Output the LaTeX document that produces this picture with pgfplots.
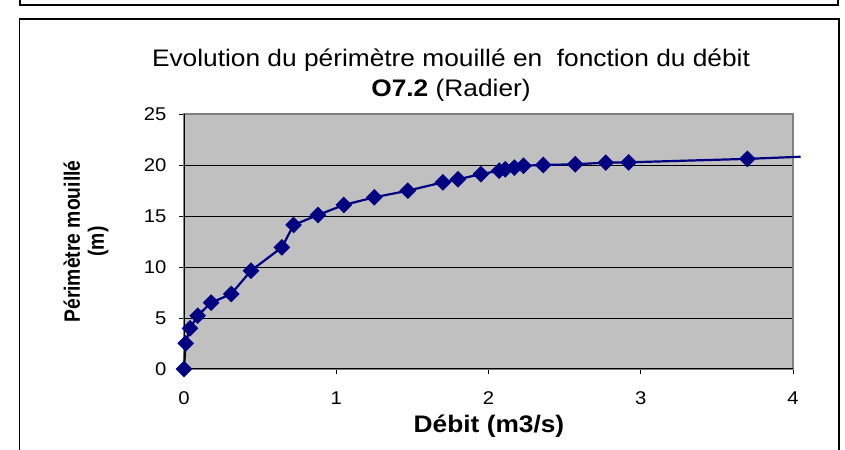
\documentclass[border=0pt]{standalone}
\usepackage{fontspec}
\setmainfont{Liberation Sans}[FakeStretch=1.1]
\newfontfamily\ylabfont{Liberation Sans}
\usepackage{pgfplots}
\pgfplotsset{compat=1.18}
\definecolor{plotgray}{HTML}{C0C0C0}
\definecolor{bordergray}{HTML}{808080}
\definecolor{navyc}{HTML}{000080}
\begin{document}
\begin{tikzpicture}[x=1bp,y=1bp]
\useasboundingbox (-184,-81) rectangle (661,369);
% frames
\draw[black, line width=1.5bp] (-164,380) -- (-164,364) -- (654,364) -- (654,380);
\draw[black, line width=1.5bp] (-164.5,-95) -- (-164.5,350) -- (655,350) -- (655,-95);
\begin{axis}[
  at={(0,0)}, anchor=south west,
  scale only axis, width=609bp, height=255bp,
  xmin=0, xmax=4, ymin=0, ymax=25,
  xtick={0,1,2,3,4}, ytick={0,5,10,15,20,25},
  axis background/.style={fill=plotgray},
  axis line style={bordergray, line width=1.5bp},
  ymajorgrids, grid style={black, line width=0.8bp},
  tick pos=left, tick align=outside, major tick length=5bp,
  tick style={black, line width=0.8bp},
  ticklabel style={font=\fontsize{18.5}{20}\selectfont},
  xticklabel style={yshift=-14bp},
  yticklabel style={xshift=-9bp},
  /pgf/number format/assume math mode=true,
  clip=false,
]
\addplot[navyc, line width=2.2bp, mark=square*, mark size=4.8bp, mark options={rotate=45, solid, fill=navyc}]
coordinates {
(0,0) (0.011,2.52) (0.04,3.99) (0.09,5.23) (0.178,6.5) (0.31,7.35)
(0.44,9.64) (0.643,11.93) (0.72,14.12) (0.88,15.1) (1.05,16.08)
(1.25,16.83) (1.47,17.48) (1.70,18.3) (1.80,18.6) (1.95,19.1)
(2.07,19.44) (2.11,19.58) (2.17,19.74) (2.23,19.93) (2.36,20.0)
(2.57,20.07) (2.77,20.23) (2.92,20.26) (3.70,20.6)
};
\addplot[navyc, line width=2.2bp, mark=none] coordinates {(3.70,20.6) (4.05,20.81)};
\draw[black, line width=1bp] (axis cs:0,25) -- (axis cs:0,0) -- (axis cs:4,0);
\end{axis}
\node[font=\fontsize{24}{28}\selectfont] at (267,309) {Evolution du périmètre mouillé en~ fonction du débit};
\node[font=\fontsize{24}{28}\selectfont] at (267,279) {\textbf{O7.2} (Radier)};
\node[font=\ylabfont\fontsize{19.4}{21}\selectfont\bfseries, rotate=90, yscale=1.15, align=center] at (-98,127.5) {Périmètre mouillé\\(m)};
\node[font=\fontsize{24}{28}\selectfont\bfseries] at (305,-57) {Débit (m3/s)};
\end{tikzpicture}
\end{document}
